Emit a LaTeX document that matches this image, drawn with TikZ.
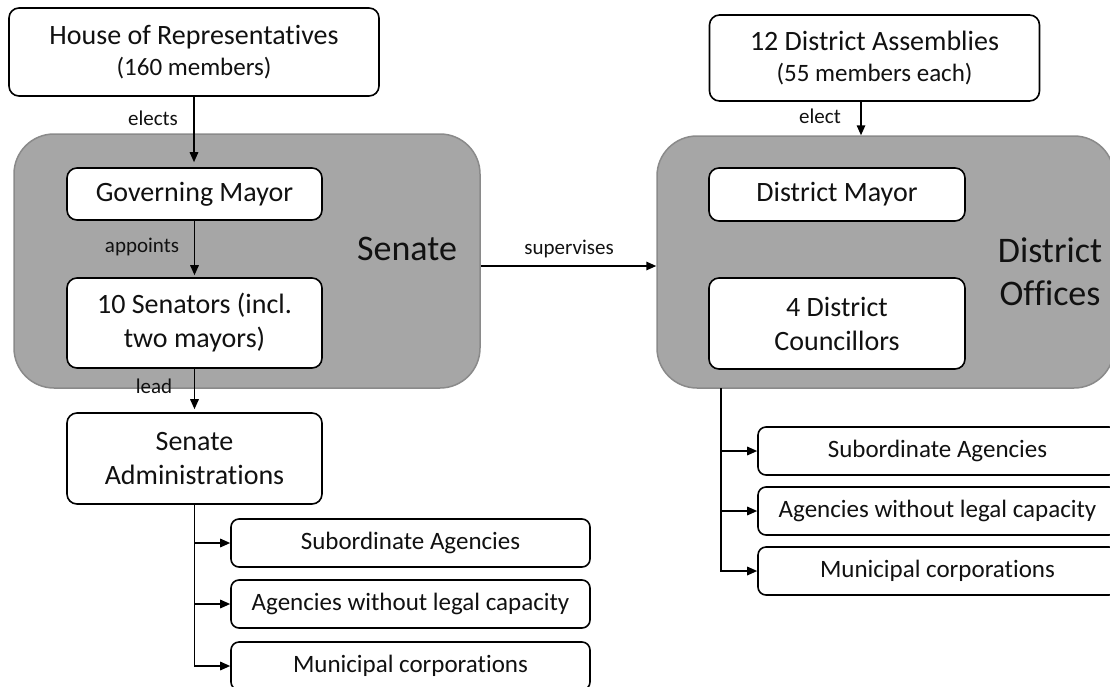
\documentclass[tikz,border=0pt]{standalone}
\usepackage{fontspec}
\setmainfont{Carlito}[Ligatures=NoCommon]
\usetikzlibrary{arrows.meta,calc}
\definecolor{grpfill}{HTML}{A6A6A6}
\definecolor{grpline}{HTML}{8A8A8A}
\definecolor{txt}{HTML}{111111}
\tikzset{
 box/.style={draw=black, line width=1.6pt, fill=white, rounded corners=10pt, inner sep=0pt, align=center, text=txt, font=\fontsize{28}{34}\selectfont},
 agency/.style={box, rounded corners=8pt, minimum width=359pt, minimum height=48pt, font=\fontsize{25}{30}\selectfont},
 group/.style={draw=grpline, line width=1.5pt, fill=grpfill, rounded corners=40pt, inner sep=0pt},
 grouplabel/.style={text=txt, font=\fontsize{36}{43}\selectfont, align=center, inner sep=0pt},
 lbl/.style={text=txt, font=\fontsize{21}{25}\selectfont, inner sep=0pt, anchor=base},
 conn/.style={line width=1.6pt, -{Triangle[length=10pt,width=8.5pt]}},
}
\begin{document}
\begin{tikzpicture}[x=1pt,y=-1pt]
\useasboundingbox (0,0) rectangle (1110,686);
\clip (0,0) rectangle (1110,686);
\node[group, minimum width=466pt, minimum height=254pt] (senate) at (247,261) {};
\node[group, minimum width=457pt, minimum height=252pt] (dist) at (885.5,262) {};
\node[grouplabel, anchor=base] (senlbl) at (407,260) {Senate};
\node[grouplabel] (distlbl) at (1050,272) {District\\Offices};
\node[box, minimum width=370pt, minimum height=88pt, font=\fontsize{28}{31}\selectfont] (hor) at (194,52) {House of Representatives\\{\fontsize{25}{31}\selectfont (160 members)}};
\node[box, minimum width=255pt, minimum height=52pt] (gm) at (194.5,194) {Governing Mayor};
\node[box, minimum width=255pt, minimum height=90pt] (sen10) at (194.5,323) {10 Senators (incl.\\two mayors)};
\node[box, minimum width=255pt, minimum height=91pt] (sadm) at (194.5,458.5) {Senate\\Administrations};
\node[agency] (la1) at (410.5,543) {Subordinate Agencies};
\node[agency] (la2) at (410.5,604) {Agencies without legal capacity};
\node[agency] (la3) at (410.5,666) {Municipal corporations};
\node[box, minimum width=330pt, minimum height=86pt, font=\fontsize{28}{31}\selectfont] (da) at (874.5,58) {12 District Assemblies\\{\fontsize{25}{31}\selectfont (55 members each)}};
\node[box, minimum width=256pt, minimum height=53pt] (dm) at (837,194.5) {District Mayor};
\node[box, minimum width=256pt, minimum height=91pt] (dc) at (837,323.5) {4 District\\Councillors};
\node[agency] (ra1) at (937.5,451) {Subordinate Agencies};
\node[agency] (ra2) at (937.5,511) {Agencies without legal capacity};
\node[agency] (ra3) at (937.5,571) {Municipal corporations};
% connectors
\draw[conn, shorten >=5pt] (hor.south) -- (hor.south |- gm.north);
\node[lbl] (l1) at (153,125) {elects};
\draw[conn, shorten >=2pt] (gm.south) -- (sen10.north);
\node[lbl] (l2) at (142,252) {appoints};
\draw[conn, shorten >=3pt] (sen10.south) -- (sadm.north);
\node[lbl] (l3) at (154,393) {lead};
\draw[conn] ([yshift=-5pt]senate.east) -- ([yshift=-5pt]senate.east -| dist.west);
\node[lbl] (l4) at (569,254) {supervises};
\coordinate (ea) at ([xshift=-13.5pt]da.south);
\draw[conn] (ea) -- (ea |- dist.north);
\node[lbl] (l5) at (820,123) {elect};
% left tree
\draw[conn] (sadm.south) |- (la3.west);
\draw[conn] (sadm.south |- la1.west) -- (la1.west);
\draw[conn] (sadm.south |- la2.west) -- (la2.west);
% right tree
\coordinate (rt) at (721,388);
\draw[conn] (rt) |- (ra3.west);
\draw[conn] (rt |- ra1.west) -- (ra1.west);
\draw[conn] (rt |- ra2.west) -- (ra2.west);
\end{tikzpicture}
\end{document}
